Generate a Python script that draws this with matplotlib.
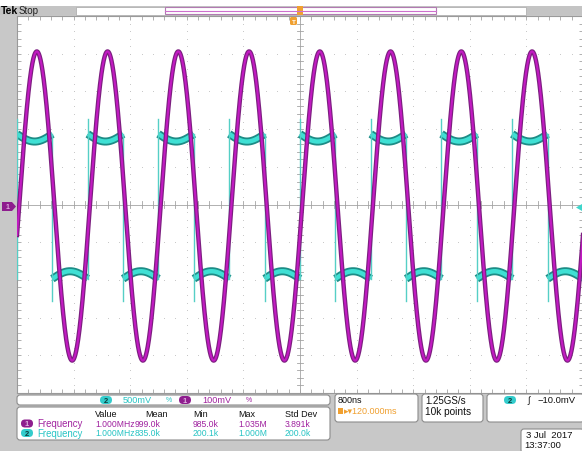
import numpy as np
import matplotlib
matplotlib.use("Agg")
import matplotlib.pyplot as plt
from matplotlib.patches import FancyBboxPatch, Rectangle, Polygon

plt.rcParams['font.family'] = ['Liberation Sans', 'DejaVu Sans']

# --- scope settings ---
TIME_PER_DIV = 0.8        # us  (800ns/div)
CH1_MV_PER_DIV = 100
CH2_MV_PER_DIV = 500
FREQ_MHZ = 1.0

# ch1 (purple): sine
ch1_amp_mv = 410
ch1_offset_mv = -4
ch1_peak_us = 0.28

# ch2 (cyan): square with sag and edge spikes
ch2_level_mv = 960
ch2_offset_mv = -25
ch2_sag_mv = 100
ch2_rise_us = 0.0
ch2_fall_us = 0.5
ch2_spike_up_mv = 1135
ch2_spike_down_mv = -1280

# measurement readout
meas_cols = ["Value", "Mean", "Min", "Max", "Std Dev"]
meas_ch1 = ["1.000MHz", "999.0k", "985.0k", "1.035M", "3.891k"]
meas_ch2 = ["1.000MHz", "835.0k", "200.1k", "1.000M", "200.0k"]

PURPLE_TXT = '#a0229f'
CYAN_TXT = '#27c4c4'
ORANGE = '#f0a030'
GREY_BG = '#c8c8c8'
FS = 6.2

fig = plt.figure(figsize=(5.82, 4.52), dpi=100)
fig.patch.set_facecolor(GREY_BG)

# graticule axes (units: us / divisions)
ax = fig.add_axes([17/582, 1-394/452, 566/582, 377/452], zorder=2)
half_t = 5 * TIME_PER_DIV
ax.set_xlim(-half_t, half_t)
ax.set_ylim(-5, 5)
ax.set_facecolor('white')

# dotted grid
for i in range(11):
    xg = -half_t + i * TIME_PER_DIV
    yy = np.arange(-5, 5.01, 0.2)
    ax.plot(np.full_like(yy, xg), yy, ls='none', marker='s', ms=0.6, mew=0, color='#c4c4c4', zorder=1)
for j in range(-5, 6):
    xx = np.arange(-half_t, half_t + 0.001, TIME_PER_DIV / 5)
    ax.plot(xx, np.full_like(xx, j), ls='none', marker='s', ms=0.6, mew=0, color='#c4c4c4', zorder=1)
# center cross with minor ticks
ax.axhline(0, color='#a4a4a4', lw=0.6, zorder=1)
ax.axvline(0, color='#a4a4a4', lw=0.6, zorder=1)
for xm in np.arange(-half_t, half_t + 0.001, TIME_PER_DIV / 5):
    ax.plot([xm, xm], [-0.08, 0.08], color='#a4a4a4', lw=0.6, zorder=1)
for ym in np.arange(-5, 5.01, 0.2):
    ax.plot([-0.045, 0.045], [ym, ym], color='#a4a4a4', lw=0.6, zorder=1)

ax.set_xticks(np.arange(-half_t, half_t + 0.001, TIME_PER_DIV / 5))
ax.set_yticks(np.arange(-5, 5.01, 0.2))
ax.tick_params(direction='in', length=3, width=0.6, color='#a4a4a4',
               top=True, right=True, labelbottom=False, labelleft=False)
for s in ax.spines.values():
    s.set_color('#9a9a9a')
    s.set_linewidth(0.8)

# --- ch2 waveform (cyan) ---
period = 1.0 / FREQ_MHZ
k0 = int(np.floor(-half_t / period)) - 1
k1 = int(np.ceil(half_t / period)) + 1
for k in range(k0, k1):
    rise = ch2_rise_us + k * period
    fall = ch2_fall_us + k * period
    nxt = rise + period
    for a, b, sgn in ((rise, fall, 1), (fall, nxt, -1)):
        a2, b2 = max(a, -half_t), min(b, half_t)
        if b2 <= a2:
            continue
        tt = np.linspace(a2, b2, 200)
        mid = (ch2_rise_us + ch2_fall_us) / 2
        v = sgn * ch2_level_mv + ch2_offset_mv - ch2_sag_mv * np.cos(2 * np.pi * FREQ_MHZ * (tt - mid))
        ax.plot(tt, v / CH2_MV_PER_DIV, color='#1d8c86', lw=5.8, solid_capstyle='butt', zorder=3)
        ax.plot(tt, v / CH2_MV_PER_DIV, color='#3fe0d4', lw=3.2, solid_capstyle='butt', zorder=3)
    if -half_t <= rise <= half_t:
        ax.plot([rise, rise], [(-ch2_level_mv + ch2_offset_mv) / CH2_MV_PER_DIV,
                               ch2_spike_up_mv / CH2_MV_PER_DIV], color='#55cfc6', lw=1.0, zorder=3)
    if -half_t <= fall <= half_t:
        ax.plot([fall, fall], [(ch2_level_mv + ch2_offset_mv) / CH2_MV_PER_DIV,
                               ch2_spike_down_mv / CH2_MV_PER_DIV], color='#55cfc6', lw=1.0, zorder=3)

# --- ch1 waveform (purple) ---
t = np.linspace(-half_t, half_t, 6000)
ch1 = (ch1_amp_mv * np.cos(2 * np.pi * FREQ_MHZ * (t - ch1_peak_us)) + ch1_offset_mv) / CH1_MV_PER_DIV
ax.plot(t, ch1, color='#7c1f80', lw=3.2, zorder=4)
ax.plot(t, ch1, color='#c21ac2', lw=1.5, zorder=4)

# --- overlay in pixel coordinates ---
ov = fig.add_axes([0, 0, 1, 1], zorder=3)
ov.set_xlim(0, 582)
ov.set_ylim(452, 0)
ov.axis('off')
ov.patch.set_alpha(0)


def box(x0, y0, w, h, fc='white', ec='#8c8c8c', r=3):
    ov.add_patch(FancyBboxPatch((x0, y0), w, h, boxstyle=f"round,pad=0,rounding_size={r}",
                                fc=fc, ec=ec, lw=0.8))


def badge(xc, yc, label, fc, tc):
    ov.add_patch(FancyBboxPatch((xc - 6, yc - 4), 12, 8, boxstyle="round,pad=0,rounding_size=4",
                                fc=fc, ec='none'))
    ov.text(xc, yc + 0.3, label, color=tc, fontsize=5.5, fontweight='bold', ha='center', va='center')


# top status bar
ov.add_patch(Rectangle((0, 0), 582, 7, fc='white', ec='none'))
ov.add_patch(Rectangle((0, 7), 582, 9, fc='#c4c4c4', ec='none'))
ov.text(1, 11.5, "Tek", fontsize=7.5, fontweight='bold', color='black', va='center')
ov.text(19, 11.5, "Stop", fontsize=7, color='#222222', va='center')
ov.add_patch(Rectangle((76, 7.5), 450, 8, fc='white', ec='#b0b0b0', lw=0.6))
ov.add_patch(Rectangle((165, 8), 271, 7, fc='none', ec='#b27ab2', lw=0.8))
ov.plot([165, 436], [12, 12], color='#cf6fcf', lw=0.8)
ov.add_patch(Polygon([[297, 7], [303, 7], [303, 16], [297, 16]], closed=True, fc=ORANGE, ec='none'))
# trigger position marker
ov.add_patch(FancyBboxPatch((290, 18), 7, 8, boxstyle="round,pad=0,rounding_size=1.5", fc=ORANGE, ec='none'))
ov.text(293.5, 22.3, "T", fontsize=4.5, color='white', ha='center', va='center', fontweight='bold')

# left ch1 ground marker, right trigger level marker
ov.add_patch(Polygon([[2, 203], [12, 203], [16, 207.5], [12, 212], [2, 212]], closed=True, fc='#8e1d8e', ec='none'))
ov.text(7, 207.8, "1", fontsize=5, color='#e0b0e0', ha='center', va='center', fontweight='bold')
ov.add_patch(Polygon([[582, 205], [582, 212], [576, 208.5]], closed=True, fc='#3fd6cc', ec='none'))

# channel box
box(17, 396, 313, 10)
badge(106, 401, "2", '#33cccc', '#0b3b3b')
ov.text(123, 401, "500mV", color=CYAN_TXT, fontsize=6.6, va='center')
ov.text(166, 401, "%", color=CYAN_TXT, fontsize=5, va='center')
badge(185, 401, "1", '#8e1d8e', '#e0b0e0')
ov.text(202, 401, "100mV", color=PURPLE_TXT, fontsize=6.6, va='center')
ov.text(246, 401, "%", color=PURPLE_TXT, fontsize=5, va='center')

# measurement box
box(17, 408, 313, 33)
col_x = [95, 145, 193, 238, 285]
val_x = [95, 135, 193, 238, 285]
for cx, c in zip(col_x, meas_cols):
    ov.text(cx, 414.5, c, color='#111111', fontsize=6.5, va='center')
badge(27, 424.5, "1", '#8e1d8e', '#e0b0e0')
ov.text(37, 424.5, "Frequency", color=PURPLE_TXT, fontsize=6.9, va='center')
badge(27, 434, "2", '#33cccc', '#0b3b3b')
ov.text(37, 434, "Frequency", color=CYAN_TXT, fontsize=6.9, va='center')
for vx, a, b in zip(val_x, meas_ch1, meas_ch2):
    ov.text(vx, 424.5, a, color=PURPLE_TXT, fontsize=FS, va='center')
    ov.text(vx, 434, b, color=CYAN_TXT, fontsize=FS, va='center')

# horizontal / acquisition / trigger boxes
box(335, 395, 83, 28)
ov.text(338, 401, "800ns", color='#111111', fontsize=6.5, va='center')
ov.add_patch(Rectangle((338, 409), 5, 6, fc=ORANGE, ec='none'))
ov.text(344, 412, "\u25b8\u25be120.000ms", color=ORANGE, fontsize=6.5, va='center')
box(422, 395, 61, 28)
ov.text(425, 401, "1.25GS/s", color='#111111', fontsize=7, va='center')
ov.text(425, 412, "10k points", color='#111111', fontsize=7.3, va='center')
box(487, 395, 97, 28)
badge(510, 401, "2", '#33cccc', '#0b3b3b')
ov.text(527, 401, "\u222b", color='#111111', fontsize=6.5, va='center')
ov.text(537, 401, "\u221210.0mV", color='#111111', fontsize=6.8, va='center')

# date box
box(521, 430, 63, 24)
ov.text(526, 436, "3 Jul  2017", color='#111111', fontsize=6.8, va='center')
ov.text(524, 445.5, "13:37:00", color='#111111', fontsize=6.8, va='center')

fig.savefig('out.png', dpi=100, facecolor=fig.get_facecolor())
